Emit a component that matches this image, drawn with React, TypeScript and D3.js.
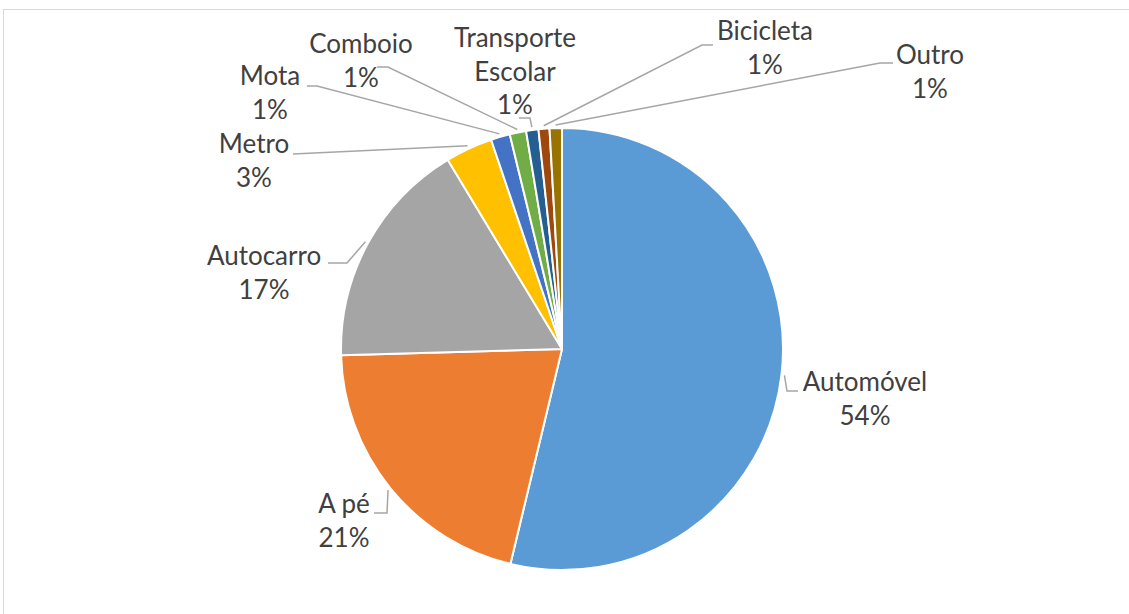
import React, {useEffect, useRef} from 'react';
import * as d3 from 'd3';

// chart data (share of each transport mode, %)
const categories = ['Automóvel', 'A pé', 'Autocarro', 'Metro', 'Mota', 'Comboio', 'Transporte Escolar', 'Bicicleta', 'Outro'];
const values = [53.75, 20.8, 16.8, 3.45, 1.4, 1.2, 0.9, 0.8, 0.9];
const labelLines = [['Automóvel'], ['A pé'], ['Autocarro'], ['Metro'], ['Mota'], ['Comboio'], ['Transporte', 'Escolar'], ['Bicicleta'], ['Outro']];
const colors = ['#5B9BD5', '#ED7D31', '#A5A5A5', '#FFC000', '#4472C4', '#70AD47', '#255E91', '#9E480E', '#997300'];

// layout of the data labels: text centre x, first baseline y, and the leader line bends
const labelLayout = [
    {x: 865, y: 391, leader: [[787, 391], [798, 391]]},
    {x: 344, y: 513, leader: [[387, 513], [374, 513]]},
    {x: 264, y: 265, leader: [[347, 263], [328, 263]]},
    {x: 254, y: 153, leader: [[293, 154]]},
    {x: 270, y: 85, leader: [[317, 86], [307, 86]]},
    {x: 361, y: 53, leader: [[388, 67], [377, 67]]},
    {x: 515, y: 47, leader: [[530, 118], [519, 118]]},
    {x: 765, y: 40, leader: [[702, 45], [713, 45]]},
    {x: 930, y: 64, leader: [[880, 63], [893, 63]]},
];

const width = 1129;
const height = 614;
const cx = 562;
const cy = 349;
const radius = 221;
const lineHeight = 33.5;

const PieChart = () => {
    const svgRef = useRef<SVGSVGElement>(null);

    useEffect(() => {
        const svg = d3.select(svgRef.current);
        svg.selectAll('*').remove();

        const data = categories.map((c, i) => ({
            label: c, value: values[i], color: colors[i], lines: labelLines[i], layout: labelLayout[i]
        }));
        const total = d3.sum(values);

        // chart area border
        svg.append('rect')
            .attr('x', 3.5).attr('y', 9.5)
            .attr('width', width + 20).attr('height', height + 20)
            .attr('fill', 'none')
            .attr('stroke', '#D9D9D9');

        const pie = d3.pie<any>().sort(null).value((d) => d.value);
        const arc = d3.arc<any>().innerRadius(0).outerRadius(radius);
        const arcs = pie(data);

        const g = svg.append('g').attr('transform', `translate(${cx},${cy})`);
        g.selectAll('path.slice')
            .data(arcs)
            .enter().append('path')
            .attr('class', 'slice')
            .attr('d', arc)
            .attr('fill', (d) => d.data.color)
            .attr('stroke', '#fff')
            .attr('stroke-width', 2)
            .attr('stroke-linejoin', 'round');

        // leader lines: start at the slice edge, then bend to the label
        const line = d3.line();
        svg.selectAll('path.leader')
            .data(arcs)
            .enter().append('path')
            .attr('class', 'leader')
            .attr('d', (d) => {
                const mid = (d.startAngle + d.endAngle) / 2;
                const start: [number, number] = [cx + (radius + 3) * Math.sin(mid), cy - (radius + 3) * Math.cos(mid)];
                return line([start, ...(d.data.layout.leader as [number, number][])]);
            })
            .attr('fill', 'none')
            .attr('stroke', '#A6A6A6')
            .attr('stroke-width', 1.5);

        // labels: category name(s) then the rounded percentage
        const labels = svg.selectAll('text.label')
            .data(arcs)
            .enter().append('text')
            .attr('class', 'label')
            .attr('text-anchor', 'middle')
            .style('font-family', 'Lato, "Open Sans", sans-serif')
            .style('font-size', '26px')
            .attr('fill', '#404040');

        labels.each(function (d) {
            const t = d3.select(this);
            const rows = [...d.data.lines, Math.round((d.data.value / total) * 100) + '%'];
            rows.forEach((r, i) => {
                t.append('tspan')
                    .attr('x', d.data.layout.x)
                    .attr('y', d.data.layout.y + i * lineHeight)
                    .text(r);
            });
        });
    }, []);

    return <svg ref={svgRef} width={width} height={height}
                style={{position: 'absolute', left: 0, top: 0, background: '#fff'}}/>;
};

export default function App() {
    return <PieChart/>;
}
